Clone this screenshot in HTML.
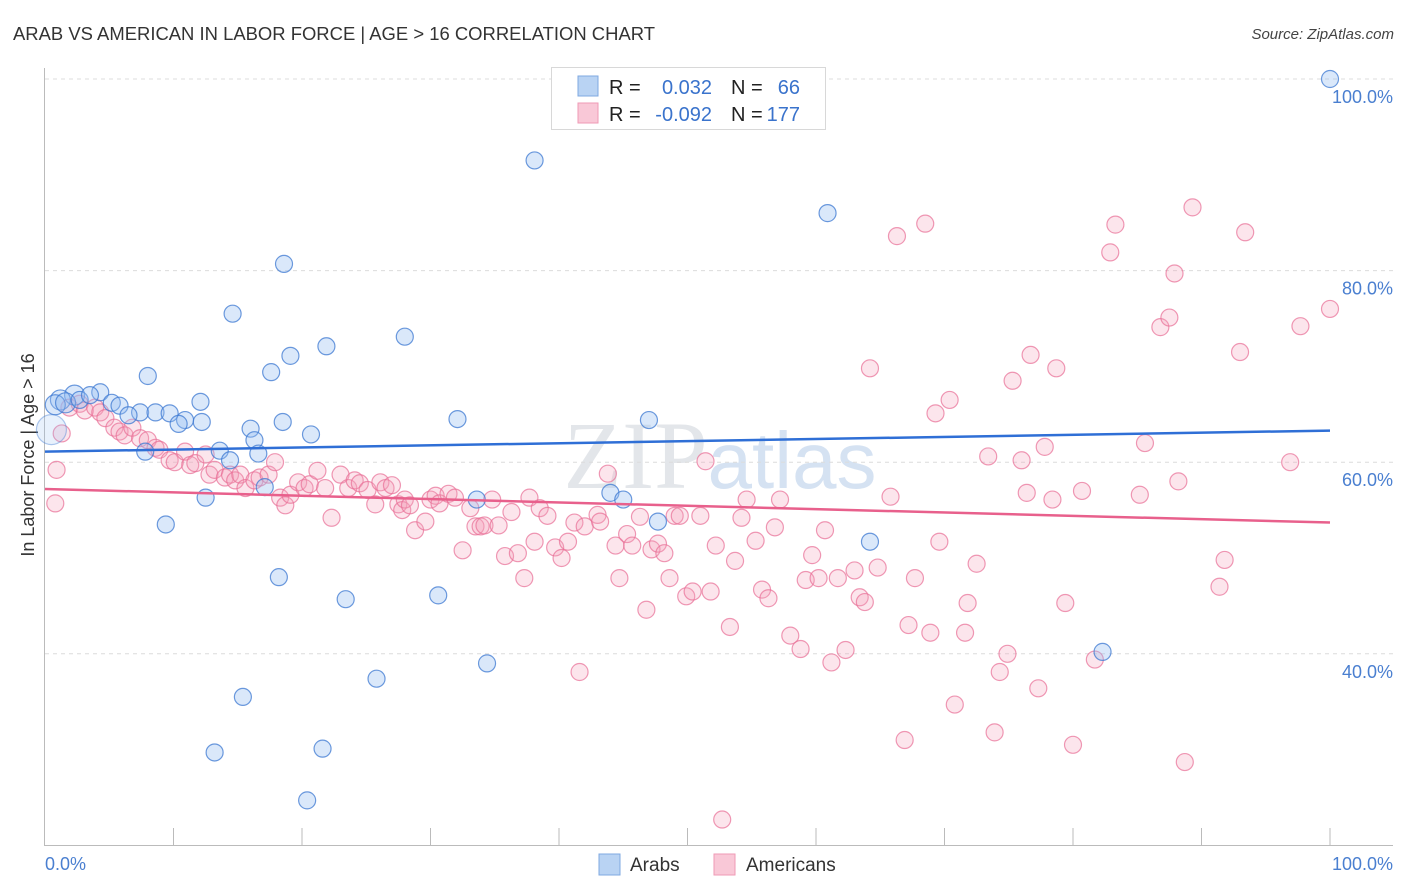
<!DOCTYPE html>
<html><head><meta charset="utf-8"><style>
body{margin:0;background:#fff;font-family:"Liberation Sans",sans-serif;}
#wrap{position:relative;width:1406px;height:892px;overflow:hidden;}
</style></head><body>
<div id="wrap">
<svg id="svg" width="1406" height="892" xmlns="http://www.w3.org/2000/svg">
<text x="13" y="40" font-size="18" fill="#333" textLength="642" lengthAdjust="spacingAndGlyphs">ARAB VS AMERICAN IN LABOR FORCE | AGE &gt; 16 CORRELATION CHART</text>
<text x="1394" y="39" font-size="15" fill="#444" font-style="italic" text-anchor="end">Source: ZipAtlas.com</text>
<text x="720" y="488" font-size="96" fill="#e3e6ea" text-anchor="middle" font-family="Liberation Serif, serif">ZIP<tspan fill="#d5e2f2" font-family="Liberation Sans, sans-serif" font-size="80">atlas</tspan></text>
<text transform="translate(34,455) rotate(-90)" font-size="18" fill="#333" text-anchor="middle">In Labor Force | Age &gt; 16</text>
<g id="grid"></g><g id="pts"></g><g id="trend"></g>
<g>
<rect x="551.5" y="67.5" width="274" height="62" fill="#fff" stroke="#d8d8d8"/>
<rect x="578" y="76" width="20" height="20" fill="#b9d3f3" stroke="#7fa8e0"/>
<rect x="578" y="103" width="20" height="20" fill="#f9c8d7" stroke="#ef9ab5"/>
<text x="609" y="94" font-size="20" fill="#222">R = </text><text x="712" y="94" font-size="20" fill="#3a73cc" text-anchor="end">0.032</text>
<text x="731" y="94" font-size="20" fill="#222">N = </text><text x="800" y="94" font-size="20" fill="#3a73cc" text-anchor="end">66</text>
<text x="609" y="121" font-size="20" fill="#222">R = </text><text x="712" y="121" font-size="20" fill="#3a73cc" text-anchor="end">-0.092</text>
<text x="731" y="121" font-size="20" fill="#222">N = </text><text x="800" y="121" font-size="20" fill="#3a73cc" text-anchor="end">177</text>
</g>
<text x="45" y="870" font-size="18" fill="#4a7fd0">0.0%</text>
<text x="1393" y="870" font-size="18" fill="#4a7fd0" text-anchor="end">100.0%</text>
<rect x="599" y="854" width="21" height="21" fill="#b9d3f3" stroke="#7fa8e0"/>
<text x="630" y="871" font-size="19" fill="#333">Arabs</text>
<rect x="714" y="854" width="21" height="21" fill="#f9c8d7" stroke="#ef9ab5"/>
<text x="746" y="871" font-size="19" fill="#333">Americans</text>
</svg>
</div>
<script>
const yTicks=[100,80,60,40];
const yTickLabels=["100.0%","80.0%","60.0%","40.0%"];
const xTicks=[10,20,30,40,50,60,70,80,90,100];
const arabX=[100,38.1,60.9,18.6,14.6,28.0,21.9,19.1,17.6,8.0,4.3,2.3,1.2,0.8,1.6,2.7,5.2,5.8,7.4,8.6,9.7,10.9,12.1,12.2,10.4,6.5,3.5,32.1,47.0,16.0,18.5,20.7,16.3,7.8,13.6,16.6,14.4,17.1,12.5,33.6,44.0,45.0,47.7,9.4,64.2,18.2,23.4,30.6,34.4,25.8,82.3,15.4,13.2,21.6,20.4,0.5];
const arabY=[100,91.5,86.0,80.7,75.5,73.1,72.1,71.1,69.4,69.0,67.3,67.0,66.5,66.0,66.2,66.5,66.2,65.9,65.2,65.2,65.1,64.4,66.3,64.2,64.0,64.9,67.0,64.5,64.4,63.5,64.2,62.9,62.3,61.1,61.2,60.9,60.2,57.4,56.3,56.1,56.8,56.1,53.8,53.5,51.7,48.0,45.7,46.1,39.0,37.4,40.2,35.5,29.7,30.1,24.7,63.4];
const amerX=[0.8,0.9,1.3,1.9,2.7,3.1,3.9,4.3,4.7,5.4,5.8,6.2,6.8,7.4,8.0,8.6,8.9,9.7,10.1,10.9,11.3,11.7,12.5,12.8,13.2,14.0,14.4,14.8,15.2,15.6,16.3,16.7,17.4,17.9,18.3,18.7,19.1,19.7,20.2,20.6,21.2,21.8,22.3,23.0,23.6,24.1,24.5,25.1,25.7,26.1,26.5,27.0,27.5,27.8,28.0,28.4,28.8,29.6,30.0,30.4,30.7,31.4,31.9,32.5,33.1,33.5,33.9,34.2,34.8,35.3,35.8,36.3,36.8,37.3,37.7,38.1,38.5,39.1,39.7,40.2,40.7,41.2,41.6,42.0,43.0,43.2,43.8,44.4,44.7,45.3,45.7,46.3,46.8,47.2,47.7,48.2,48.6,49.0,49.4,49.9,50.4,51.0,51.4,51.8,52.2,52.7,53.3,53.7,54.2,54.6,55.3,55.8,56.3,56.8,57.2,58.0,58.8,59.2,59.7,60.2,60.7,61.2,61.7,62.3,63.0,63.4,63.8,64.2,64.8,65.8,66.3,66.9,67.2,67.7,68.5,68.9,69.3,69.6,70.4,70.8,71.6,71.8,72.5,73.4,73.9,74.3,74.9,75.3,76.0,76.4,76.7,77.3,77.8,78.4,78.7,79.4,80.0,80.7,81.7,82.9,83.3,85.2,85.6,86.8,87.5,87.9,88.2,88.7,89.3,91.8,91.4,93.0,93.4,96.9,97.7,100];
const amerY=[55.7,59.2,63.0,65.7,66.1,65.4,65.7,65.2,64.6,63.6,63.2,62.8,63.6,62.5,62.3,61.5,61.3,60.2,60.0,61.1,59.7,59.9,60.8,58.7,59.2,58.4,58.7,58.1,58.7,57.3,58.1,58.4,58.7,60.0,56.3,55.5,56.6,57.9,57.3,57.7,59.1,57.3,54.2,58.7,57.3,58.1,57.8,57.1,55.6,57.9,57.3,57.6,55.6,55.0,56.1,55.5,52.9,53.8,56.1,56.5,55.7,56.7,56.3,50.8,55.2,53.3,53.3,53.4,56.1,53.4,50.2,54.8,50.5,47.9,56.3,51.7,55.2,54.4,51.1,50.0,51.7,53.7,38.1,53.3,54.5,53.8,58.8,51.3,47.9,52.5,51.3,54.3,44.6,50.9,51.5,50.5,47.9,54.4,54.4,46.0,46.5,54.4,60.1,46.5,51.3,22.7,42.8,49.7,54.2,56.1,51.8,46.7,45.8,53.2,56.1,41.9,40.5,47.7,50.3,47.9,52.9,39.1,47.9,40.4,48.7,45.9,45.4,69.8,49.0,56.4,83.6,31.0,43.0,47.9,84.9,42.2,65.1,51.7,66.5,34.7,42.2,45.3,49.4,60.6,31.8,38.1,40.0,68.5,60.2,56.8,71.2,36.4,61.6,56.1,69.8,45.3,30.5,57.0,39.4,81.9,84.8,56.6,62.0,74.1,75.1,79.7,58.0,28.7,86.6,49.8,47.0,71.5,84.0,60.0,74.2,76.0];
const arabTrend=[61.1,63.3];
const amerTrend=[57.2,53.7];

const NS="http://www.w3.org/2000/svg";
const X0=45,X1=1330,YT=79,YPX=9.58;
function xs(v){return X0+(X1-X0)*v/100;}
function ys(v){return YT+(100-v)*YPX;}
function mk(t,a,parent){const e=document.createElementNS(NS,t);for(const k in a)e.setAttribute(k,a[k]);parent.appendChild(e);return e;}
const grid=document.getElementById('grid'),svg=document.getElementById('svg');
yTicks.forEach((t,i)=>{
  const l=mk('line',{x1:45,x2:1393,y1:ys(t),y2:ys(t),stroke:'#dcdcdc','stroke-dasharray':'4,4'},grid);
  
  
  const tx=mk('text',{x:1393,y:ys(t)+24,'font-size':18,fill:'#4a7fd0','text-anchor':'end'},grid);
  tx.textContent=yTickLabels[i];
  
  
});
const ax=mk('line',{x1:44.5,x2:44.5,y1:68,y2:845,stroke:'#bbb'},grid);


const bx=mk('line',{x1:44,x2:1393,y1:845.5,y2:845.5,stroke:'#bbb'},grid);


xTicks.forEach(t=>{
  const l=mk('line',{x1:xs(t),x2:xs(t),y1:828,y2:845,stroke:'#bbb'},grid);
  
  
});
const pts=document.getElementById('pts');
amerX.forEach((x,i)=>{
  const c=mk('circle',{cx:xs(x),cy:ys(amerY[i]),r:8.5,fill:'rgba(244,160,188,0.28)',stroke:'rgba(232,110,150,0.7)','stroke-width':1.2},pts);
  
  
});
arabX.forEach((x,i)=>{
  const big=(i==arabX.length-1);
  const r=big?15:(i>=11&&i<=14?10:8.5);
  const c=mk('circle',{cx:xs(x),cy:ys(arabY[i]),r:r,fill:big?'rgba(150,190,240,0.22)':'rgba(150,190,240,0.35)',stroke:big?'rgba(60,120,210,0.4)':'rgba(60,120,210,0.75)','stroke-width':1.2},pts);
  
  
});
const tr=document.getElementById('trend');
const t1=mk('line',{x1:xs(0),x2:xs(100),y1:ys(arabTrend[0]),y2:ys(arabTrend[1]),stroke:'#2f6fd6','stroke-width':2.5},tr);


const t2=mk('line',{x1:xs(0),x2:xs(100),y1:ys(amerTrend[0]),y2:ys(amerTrend[1]),stroke:'#e8608c','stroke-width':2.5},tr);


</script>
</body></html>
